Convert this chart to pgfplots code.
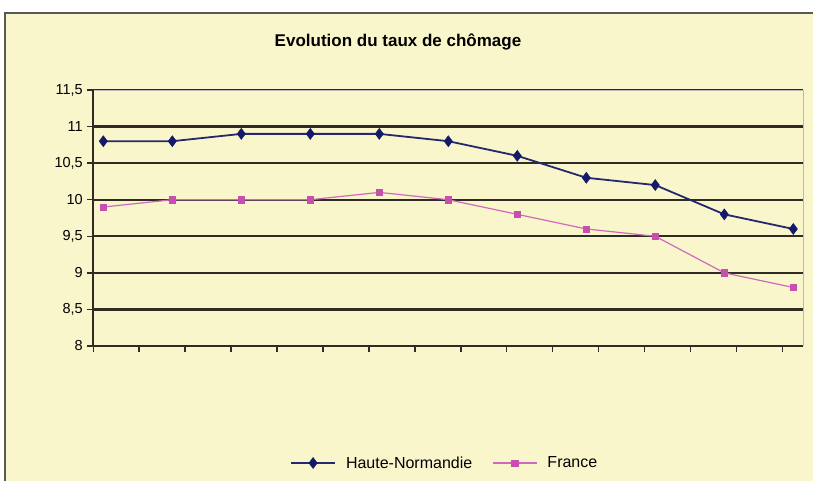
\documentclass[border=0pt]{standalone}
\usepackage{pgfplots}
\pgfplotsset{compat=1.18}
\usepackage{fontspec}
\setmainfont{Liberation Sans}
\definecolor{cream}{HTML}{FAF6CB}
\definecolor{navyser}{HTML}{15196A}
\definecolor{pinkser}{HTML}{C64FB0}
\definecolor{gridc}{HTML}{2E2C24}
\begin{document}
\begin{tikzpicture}[x=1pt,y=1pt]
\useasboundingbox (0pt,0pt) rectangle (813pt,481pt);
\clip (0pt,0pt) rectangle (813pt,481pt);
\fill[white] (0pt,0pt) rectangle (813pt,481pt);
\fill[cream] (5pt,-20pt) rectangle (840pt,468pt);
\draw[line width=2pt, color=gray!70!black] (5pt,-20pt) -- (5pt,468pt) -- (840pt,468pt);
\node[font=\bfseries\fontsize{17}{20}\selectfont] at (398pt,439pt) {Evolution du taux de chômage};
\begin{axis}[
  at={(93.3pt,135pt)}, anchor=south west,
  scale only axis, width=710pt, height=256pt,
  xmin=-0.145, xmax=10.145, ymin=8, ymax=11.5,
  axis line style={draw=none},
  ytick={8,8.5,...,11.5},
  yticklabels={8,{8,5},9,{9,5},10,{10,5},11,{11,5}},
  xtick={-0.145,0.5207,...,10},
  xticklabels={},
  xtick pos=bottom, ytick pos=left,
  tick align=outside,
  major tick length=6pt,
  tick style={gridc, line width=1.5pt},
  ymajorgrids, grid style={gridc, line width=2.2pt},
  tick label style={font=\fontsize{14.5}{16}\selectfont},
  yticklabel style={xshift=-1pt},
  clip=false,
  legend columns=2,
  legend style={at={(0.495,-0.457)}, anchor=center, draw=none, fill=none,
    font=\fontsize{16}{18}\selectfont, column sep=8pt,
    /tikz/every even column/.append style={column sep=18pt}},
  legend image code/.code={\draw[mark repeat=2,mark phase=2] plot coordinates {(0pt,0pt) (22pt,0pt) (44pt,0pt)};},
]
\draw[gray!55, line width=0.8pt] (rel axis cs:0,1) -- (rel axis cs:1,1) -- (rel axis cs:1,0);
\draw[gridc, line width=2pt] (rel axis cs:0,1) -- (rel axis cs:0,0) -- (rel axis cs:1,0);
\addplot[color=navyser!85!gray, line width=1.8pt, mark=diamond*, mark size=5.5pt,
  mark options={fill=navyser, draw=navyser, line width=0.5pt}]
  coordinates {(0,10.8) (1,10.8) (2,10.9) (3,10.9) (4,10.9) (5,10.8) (6,10.6) (7,10.3) (8,10.2) (9,9.8) (10,9.6)};
\addlegendentry{Haute-Normandie}
\addplot[color=pinkser!85!white, line width=1.2pt, mark=square*, mark size=3.2pt,
  mark options={fill=pinkser, draw=pinkser, line width=0.5pt}]
  coordinates {(0,9.9) (1,10.0) (2,10.0) (3,10.0) (4,10.1) (5,10.0) (6,9.8) (7,9.6) (8,9.5) (9,9.0) (10,8.8)};
\addlegendentry{France}
\end{axis}
\end{tikzpicture}
\end{document}
